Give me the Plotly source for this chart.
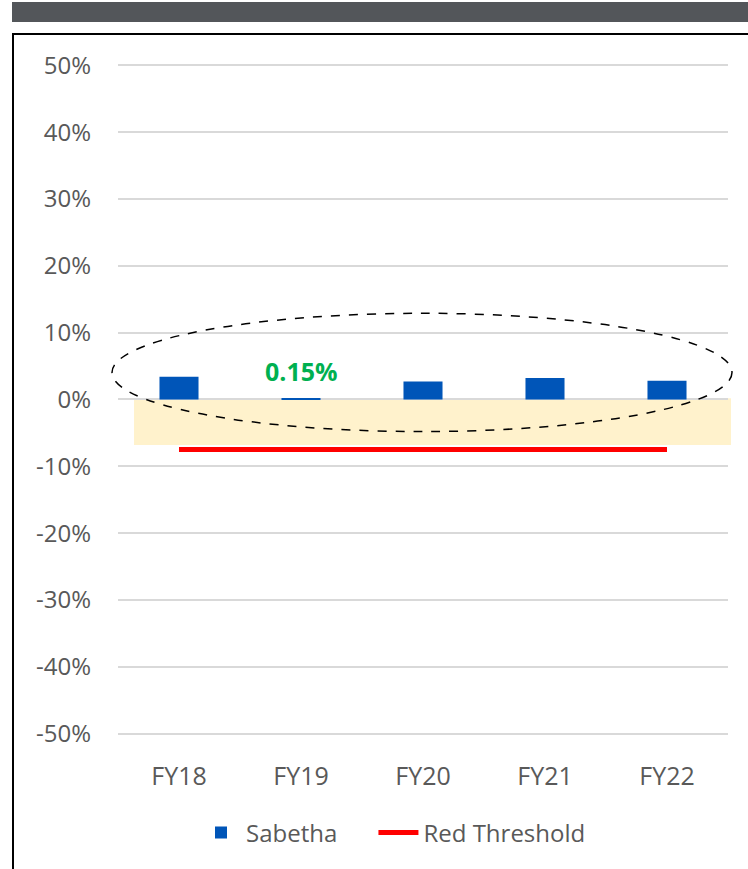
import plotly.graph_objects as go

# --------------------------------------------------
# Data
# --------------------------------------------------
years = ["FY18", "FY19", "FY20", "FY21", "FY22"]
sabetha = [0.034, 0.0015, 0.027, 0.032, 0.028]
red_threshold = [-0.075, -0.075, -0.075, -0.075, -0.075]
highlight_label = "0.15%"
highlight_year = "FY19"
highlight_y = 0.043
tick_vals = [0.5, 0.4, 0.3, 0.2, 0.1, 0.0, -0.1, -0.2, -0.3, -0.4, -0.5]
tick_text = [f"{round(v * 100)}%" for v in tick_vals]

# --------------------------------------------------
# Geometry helpers (pixel -> paper coords)
# --------------------------------------------------
W, H = 748, 869
M_L, M_R, M_T, M_B = 118, 20, 52, 112
Y_RANGE = [-0.535, 0.52]
PW = W - M_L - M_R
PH = H - M_T - M_B


def px_x(px):
    return (px - M_L) / PW


def px_y(py):
    return (H - M_B - py) / PH


def val_y(v):
    return (v - Y_RANGE[0]) / (Y_RANGE[1] - Y_RANGE[0])


fig = go.Figure()

# trailing no-break spaces widen the first legend entry
fig.add_trace(
    go.Bar(
        x=years,
        y=sabetha,
        name="Sabetha" + "\u00a0" * 5,
        marker=dict(color="#0055B8", line=dict(width=0)),
        width=0.32,
    )
)

fig.add_trace(
    go.Scatter(
        x=years,
        y=red_threshold,
        name="Red Threshold",
        mode="lines",
        line=dict(color="#FF0000", width=5),
    )
)

# Yellow tolerance band
fig.add_shape(
    type="rect",
    xref="paper", yref="y",
    x0=px_x(134), x1=px_x(731),
    y0=0.002, y1=-0.068,
    fillcolor="#FFF2CC",
    line=dict(width=0),
    layer="between",
)

# Dashed highlight ellipse
fig.add_shape(
    type="circle",
    xref="paper", yref="paper",
    x0=px_x(112), x1=px_x(732),
    y0=val_y(-0.048), y1=val_y(0.129),
    line=dict(color="black", width=1.5, dash="dash"),
    layer="above",
)

# Header band and frame
fig.add_shape(
    type="rect", xref="paper", yref="paper",
    x0=px_x(12), x1=px_x(760), y0=px_y(22), y1=px_y(2),
    fillcolor="#53565A", line=dict(width=0),
)
fig.add_shape(
    type="rect", xref="paper", yref="paper",
    x0=px_x(13), x1=px_x(770), y0=px_y(890), y1=px_y(34),
    fillcolor="rgba(0,0,0,0)", line=dict(color="black", width=2),
)

fig.add_annotation(
    x=highlight_year, y=highlight_y,
    text=f"<b>{highlight_label}</b>",
    showarrow=False,
    font=dict(color="#00B050", size=25, family="Open Sans"),
)

fig.update_layout(
    width=W,
    height=H,
    margin=dict(l=M_L, r=M_R, t=M_T, b=M_B),
    plot_bgcolor="white",
    paper_bgcolor="white",
    font=dict(family="Open Sans", size=24, color="#595959"),
    bargap=0.68,
    showlegend=True,
    legend=dict(
        orientation="h",
        x=px_x(196), xanchor="left",
        y=px_y(833), yanchor="middle",
        font=dict(size=24, color="#595959"),
        itemwidth=40,
    ),
)

fig.update_xaxes(
    showgrid=False,
    showline=False,
    ticks="",
    tickfont=dict(size=25),
    ticklabelstandoff=2,
)

fig.update_yaxes(
    range=Y_RANGE,
    tickvals=tick_vals,
    ticktext=tick_text,
    showgrid=True,
    gridcolor="#D9D9D9",
    gridwidth=1.5,
    zeroline=False,
    showline=False,
    ticks="",
    ticklabelstandoff=26,
)

# page has no body margin so the figure sits at the window origin
fig.write_html(
    "out.html",
    config={"displayModeBar": False},
    post_script="document.body.style.margin='0px';",
)
